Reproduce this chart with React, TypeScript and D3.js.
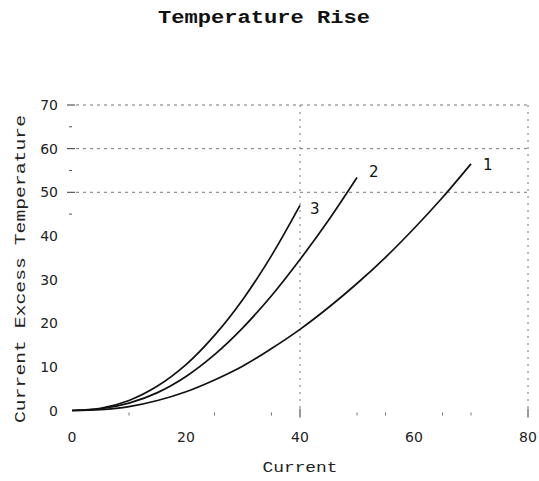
import React from "react";
import * as d3 from "d3";

const title = "Temperature Rise";
const xLabel = "Current";
const yLabel = "Current Excess Temperature";

const xTicks = [0, 20, 40, 60, 80];
const yTicks = [0, 10, 20, 30, 40, 50, 60, 70];
const gridY = [50, 60, 70];
const gridX = [40, 80];
const yMajorMarks = [50, 60, 70];
const yMinorMarks = [45, 55, 65];
const xMajorMarks = [40, 80];
const xMinorMarks = [10, 25, 35, 50, 55, 65, 70];

const seriesNames = ["1", "2", "3"];
const curve1X = [0, 5, 10, 15, 20, 25, 30, 35, 40, 45, 50, 55, 60, 65, 70];
const curve1Y = [0, 0.2, 0.9, 2.3, 4.3, 7, 10.2, 14.2, 18.6, 23.6, 29.1, 35.1, 41.7, 48.8, 56.5];
const curve2X = [0, 5, 10, 15, 20, 25, 30, 35, 40, 45, 50];
const curve2Y = [0, 0.4, 1.7, 4.1, 7.8, 12.8, 19, 26.3, 34.6, 43.6, 53.4];
const curve3X = [0, 5, 10, 15, 20, 25, 30, 35, 40];
const curve3Y = [0, 0.5, 2.3, 5.6, 10.5, 17.2, 25.5, 35.5, 47];

const W = 539;
const H = 481;
const labelOffsets = [
  { dx: 12, dy: 6 },
  { dx: 12, dy: 0 },
  { dx: 10, dy: 9 },
];

export default function App() {
  const x = d3.scaleLinear().domain([0, 80]).range([72, 528]);
  const y = d3.scaleLinear().domain([0, 70]).range([410.5, 105]);
  const line = d3
    .line<[number, number]>()
    .x((d) => x(d[0]))
    .y((d) => y(d[1]))
    .curve(d3.curveCatmullRom.alpha(0.5));

  const series = [
    curve1X.map((v, i) => [v, curve1Y[i]] as [number, number]),
    curve2X.map((v, i) => [v, curve2Y[i]] as [number, number]),
    curve3X.map((v, i) => [v, curve3Y[i]] as [number, number]),
  ];

  const mono = "'Liberation Mono', 'DejaVu Sans Mono', monospace";
  const sans = "'DejaVu Sans', sans-serif";
  const grid = "#777";

  return (
    <svg
      width={W}
      height={H}
      style={{ position: "absolute", left: 0, top: 0, background: "#fff" }}
    >
      <rect width={W} height={H} fill="#fff" />
      <text
        x={264}
        y={23}
        textAnchor="middle"
        fontFamily={mono}
        fontWeight="bold"
        fontSize={18}
        textLength={212}
        lengthAdjust="spacingAndGlyphs"
        fill="#111"
      >
        {title}
      </text>

      {/* grid */}
      {gridY.map((v) => (
        <line
          key={"gy" + v}
          x1={x(0) + 4}
          x2={x(80)}
          y1={y(v)}
          y2={y(v)}
          stroke={grid}
          strokeWidth={1}
          strokeDasharray="3,4"
        />
      ))}
      {gridX.map((v) => (
        <line
          key={"gx" + v}
          x1={x(v)}
          x2={x(v)}
          y1={y(70)}
          y2={y(0)}
          stroke={grid}
          strokeWidth={1}
          strokeDasharray="2,5"
        />
      ))}

      {/* tick marks */}
      {yMajorMarks.map((v) => (
        <line key={"ym" + v} x1={x(0) - 5} x2={x(0) + 3} y1={y(v)} y2={y(v)} stroke="#333" strokeWidth={1} />
      ))}
      {yMinorMarks.map((v) => (
        <line key={"yn" + v} x1={x(0) - 3} x2={x(0)} y1={y(v)} y2={y(v)} stroke="#555" strokeWidth={1} />
      ))}
      {xMajorMarks.map((v) => (
        <line key={"xm" + v} x1={x(v)} x2={x(v)} y1={y(0) - 2} y2={y(0) + 7} stroke="#333" strokeWidth={1} />
      ))}
      {xMinorMarks.map((v) => (
        <line key={"xn" + v} x1={x(v)} x2={x(v)} y1={y(0) + 2} y2={y(0) + 5} stroke="#777" strokeWidth={1} />
      ))}

      {/* tick labels */}
      {yTicks.map((v) => (
        <text
          key={"yt" + v}
          x={58}
          y={y(v) + 5}
          textAnchor="end"
          fontFamily={sans}
          fontSize={14}
          fill="#222"
        >
          {v}
        </text>
      ))}
      {xTicks.map((v) => (
        <text
          key={"xt" + v}
          x={x(v)}
          y={442}
          textAnchor="middle"
          fontFamily={sans}
          fontSize={14}
          fill="#222"
        >
          {v}
        </text>
      ))}

      {/* axis labels */}
      <text
        x={300}
        y={472}
        textAnchor="middle"
        fontFamily={mono}
        fontSize={15}
        textLength={75}
        lengthAdjust="spacingAndGlyphs"
        fill="#222"
      >
        {xLabel}
      </text>
      <text
        transform={`translate(25,269) rotate(-90)`}
        textAnchor="middle"
        fontFamily={mono}
        fontSize={15}
        textLength={308}
        lengthAdjust="spacingAndGlyphs"
        fill="#222"
      >
        {yLabel}
      </text>

      {/* curves */}
      {series.map((s, i) => (
        <path key={"c" + i} d={line(s) || ""} fill="none" stroke="#111" strokeWidth={1.7} />
      ))}
      {series.map((s, i) => {
        const last = s[s.length - 1];
        return (
          <text
            key={"l" + i}
            x={x(last[0]) + labelOffsets[i].dx}
            y={y(last[1]) + labelOffsets[i].dy}
            fontFamily={sans}
            fontSize={15}
            fill="#111"
          >
            {seriesNames[i]}
          </text>
        );
      })}
    </svg>
  );
}
